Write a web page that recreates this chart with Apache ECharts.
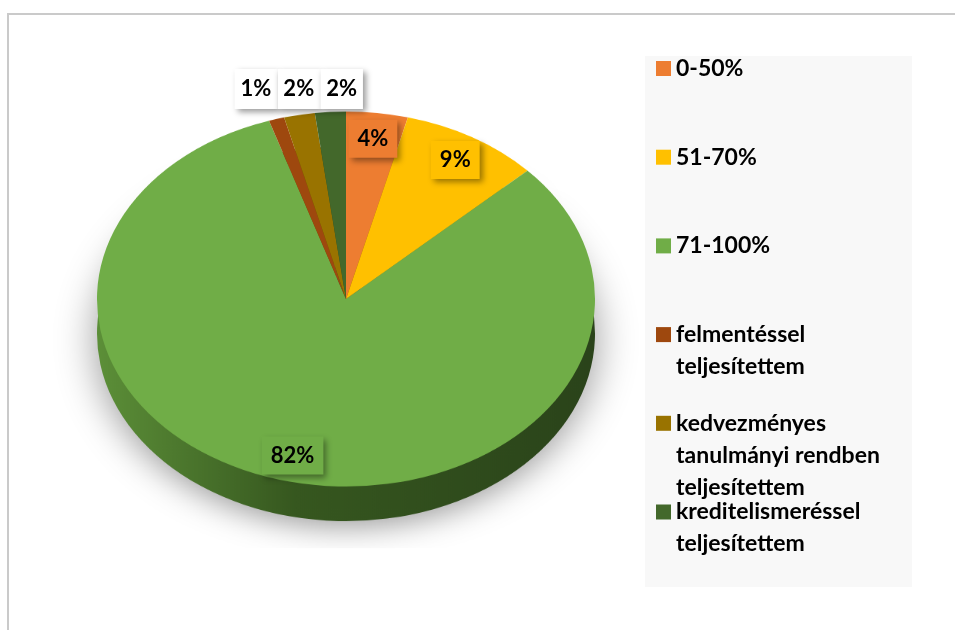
<!DOCTYPE html>
<html>
<head>
<meta charset="utf-8">
<script src="https://cdn.jsdelivr.net/npm/echarts@6/dist/echarts.min.js"></script>
<style>
  html, body { margin: 0; padding: 0; background: #fff; }
  #stage { position: relative; width: 955px; height: 630px; overflow: hidden; }
  #frame { position: absolute; left: 7px; top: 13px; right: -10px; bottom: -10px;
           border-top: 2px solid #cacaca; border-left: 2px solid #cacaca; }
  #legendBg { position: absolute; left: 645px; top: 56px; width: 267px; height: 531px; background: #f8f8f8; }
  #pie, #overlay { position: absolute; left: 0; top: 0; width: 955px; height: 630px; }
  /* squash the round pie into the ellipse of the tilted 3D pie (same numbers as CY / SQUASH) */
  #pie { transform: scaleY(0.753); transform-origin: 0 299px; }
</style>
</head>
<body>
<div id="stage">
  <div id="frame"></div>
  <div id="legendBg"></div>
  <div id="pie"></div>
  <div id="overlay"></div>
</div>
<script>
const categories = [
  '0-50%',
  '51-70%',
  '71-100%',
  'felmentéssel\nteljesítettem',
  'kedvezményes\ntanulmányi rendben\nteljesítettem',
  'kreditelismeréssel\nteljesítettem'
]
const shares = [4, 9, 82, 1, 2, 2]
const outsideLabel = [false, false, false, true, true, true]

const topColors = ['#ED7D31', '#FFC000', '#70AD47', '#9E480E', '#997300', '#43682B']
const sideColors = [
  '#b35d22',
  '#c08f00',
  { type: 'linear', x: 0, y: 0, x2: 1, y2: 0,
    colorStops: [{ offset: 0, color: '#5c8f38' }, { offset: 0.4, color: '#36571f' }, { offset: 1, color: '#2a431a' }] },
  '#763609',
  '#735600',
  '#324e20'
]

const CX = 346
const CY = 299
const R = 249
const SQUASH = 0.753
const DEPTH = 46
const OUT_GAP = 30

const LEGEND_TOP = 68.5   // centre of the first legend line
const LEGEND_STEP = 88.7
const LINE_H = 32

const font = { fontFamily: 'Lato', fontWeight: 'bold', fontSize: 22, color: '#000' }

// 1) the pie body (this div is squashed by css)
const pieChart = echarts.init(document.getElementById('pie'))
pieChart.setOption({
  animation: false,
  series: [
    {
      // side wall of the 3D pie
      type: 'pie',
      silent: true,
      center: [CX, CY + DEPTH],
      radius: R,
      startAngle: 90,
      clockwise: true,
      label: { show: false },
      labelLine: { show: false },
      itemStyle: { borderWidth: 0, shadowBlur: 40, shadowColor: 'rgba(0,0,0,0.4)', shadowOffsetY: 8 },
      data: shares.map((v, i) => ({ value: v, name: categories[i], itemStyle: { color: sideColors[i] } }))
    },
    {
      type: 'pie',
      silent: true,
      center: [CX, CY],
      radius: R,
      startAngle: 90,
      clockwise: true,
      label: { show: false },
      labelLine: { show: false },
      itemStyle: { borderWidth: 0 },
      data: shares.map((v, i) => ({ value: v, name: categories[i], itemStyle: { color: topColors[i] } }))
    }
  ]
})

// 2) labels + legend (not squashed, label y mapped onto the ellipse)
// one legend per entry so every entry starts on the same step; empty leading
// lines keep the icon level with the first line of text
const legends = categories.map((c, i) => {
  const n = c.split('\n').length
  return {
    orient: 'vertical',
    left: 656,
    top: LEGEND_TOP + i * LEGEND_STEP - (2 * n - 1) * LINE_H / 2,
    padding: 0,
    icon: 'rect',
    itemWidth: 15,
    itemHeight: 15,
    selectedMode: false,
    itemStyle: { opacity: 1, borderWidth: 0 },
    formatter: name => '\n'.repeat(n - 1) + name,
    textStyle: { ...font, fontSize: 23, lineHeight: LINE_H },
    data: [{ name: c, itemStyle: { color: topColors[i], opacity: 1 } }]
  }
})

const overlay = echarts.init(document.getElementById('overlay'))
overlay.setOption({
  animation: false,
  legend: legends,
  series: [
    {
      type: 'pie',
      silent: true,
      center: [CX, CY],
      radius: [R * 0.7, R],
      startAngle: 90,
      clockwise: true,
      avoidLabelOverlap: false,
      itemStyle: { opacity: 0, borderWidth: 0 },
      emphasis: { disabled: true },
      label: {
        show: true,
        position: 'inside',
        formatter: '{c}%',
        opacity: 1,
        ...font,
        padding: [8, 9],
        distanceToLabelLine: -12,
        shadowBlur: 6,
        shadowOffsetX: 3,
        shadowOffsetY: 3,
        shadowColor: 'rgba(0,0,0,0.4)'
      },
      labelLine: { show: false, length: 40, length2: 0 },
      labelLayout: function (params) {
        const r = params.labelRect
        const outside = outsideLabel[params.dataIndex]
        const out = {
          x: r.x + r.width / 2,
          y: outside ? CY - (R + OUT_GAP) * SQUASH : CY + (r.y + r.height / 2 - CY) * SQUASH,
          align: 'center',
          verticalAlign: 'middle'
        }
        if (outside) out.moveOverlap = 'shiftX'
        return out
      },
      data: shares.map((v, i) => ({
        value: v,
        name: categories[i],
        itemStyle: { color: topColors[i] },
        label: outsideLabel[i]
          ? { position: 'outside', backgroundColor: '#ffffff', padding: [9, 6] }
          : { backgroundColor: topColors[i] }
      }))
    }
  ]
})
</script>
</body>
</html>
